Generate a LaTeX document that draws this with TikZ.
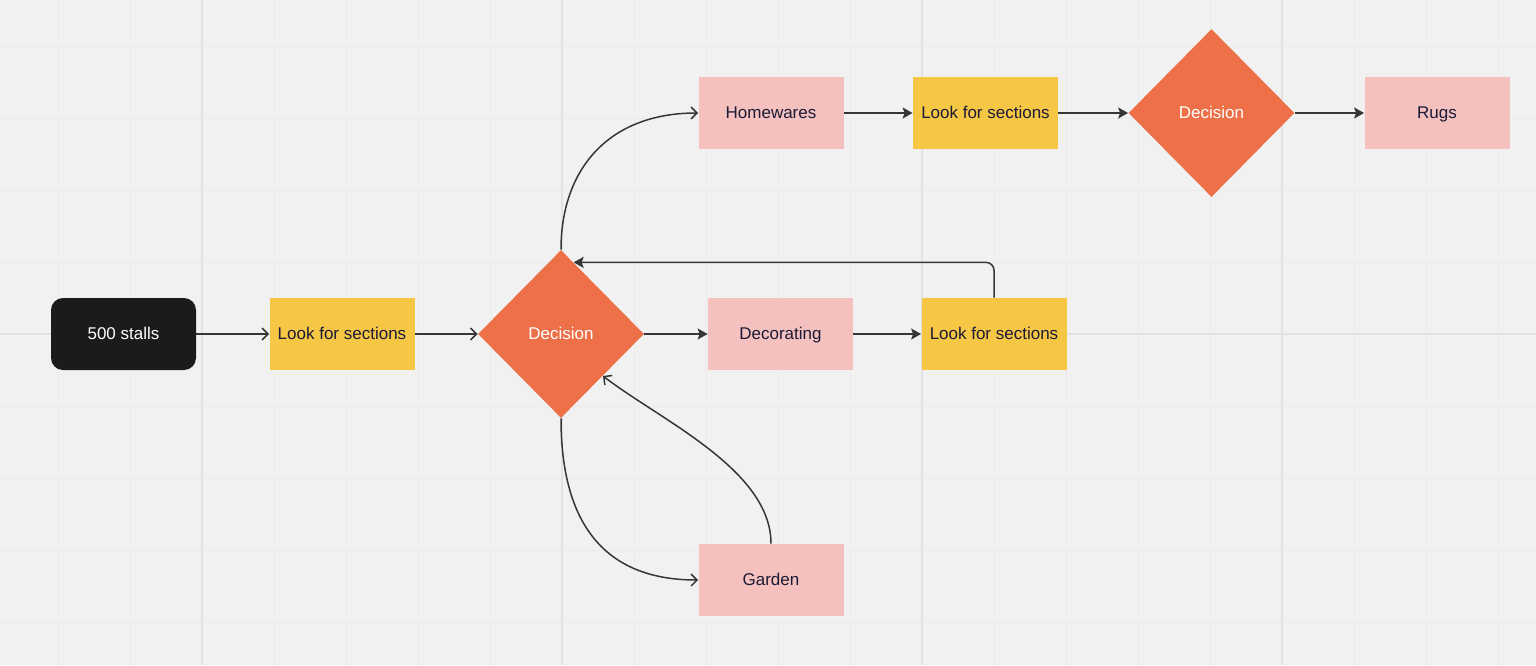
\documentclass[tikz,border=0pt]{standalone}
\usepackage{fontspec}
\setmainfont{Liberation Sans}
\usetikzlibrary{shapes.geometric,arrows.meta}
\definecolor{bg}{HTML}{F1F1F1}
\definecolor{gridminor}{HTML}{EBEBEB}
\definecolor{gridmajor}{HTML}{E2E2E2}
\definecolor{yel}{HTML}{F5C744}
\definecolor{pnk}{HTML}{F4C1BE}
\definecolor{org}{HTML}{EE7049}
\definecolor{blk}{HTML}{1B1B1B}
\definecolor{navy}{HTML}{1C1A36}
\definecolor{lc}{HTML}{363636}
\begin{document}
\begin{tikzpicture}[x=0.5pt,y=-0.5pt,
  box/.style={rectangle, minimum width=72.5pt, minimum height=36pt, inner sep=0pt,
    text height=6.5pt, text depth=1.2pt,
    font=\fontsize{8.5}{10}\selectfont, text=navy},
  yellowbox/.style={box, fill=yel},
  pinkbox/.style={box, fill=pnk},
  startbox/.style={box, fill=blk, rounded corners=6pt, text=white},
  decbox/.style={diamond, fill=org, minimum width=83pt, minimum height=84pt, inner sep=0pt,
    text height=6.5pt, text depth=1.2pt,
    text=white, font=\fontsize{8.5}{10}\selectfont},
  conn/.style={draw=lc, line width=0.75pt},
  arrowopen/.style={conn, -{Straight Barb[length=3pt,width=6pt]}},
  arrowfill/.style={conn, -{Stealth[length=5pt,width=5.5pt,inset=1pt]}},
  minorline/.style={draw=gridminor, line width=0.5pt},
  majorline/.style={draw=gridmajor, line width=0.9pt}
]
% background and grid
\fill[bg] (0,0) rectangle (1536,665);
\useasboundingbox (0,0) rectangle (1536,665);
\foreach \x in {58,130,...,1498} \draw[minorline] (\x,0) -- (\x,665);
\foreach \y in {46,118,...,622} \draw[minorline] (0,\y) -- (1536,\y);
\foreach \x in {202,562,922,1282} \draw[majorline] (\x,0) -- (\x,665);
\draw[majorline] (0,334) -- (1536,334);

% nodes
\node[startbox] (s) at (123.5,334) {500 stalls};
\node[yellowbox] (l1) at (342,334) {Look for sections};
\node[decbox] (d1) at (561,334) {Decision};
\node[pinkbox] (dec) at (780.5,334) {Decorating};
\node[yellowbox] (l2) at (994,334) {Look for sections};
\node[pinkbox] (hw) at (771,113) {Homewares};
\node[yellowbox] (l3) at (985.5,113) {Look for sections};
\node[decbox] (d2) at (1211.5,113) {Decision};
\node[pinkbox] (rg) at (1437,113) {Rugs};
\node[pinkbox] (gd) at (771,580) {Garden};

% connectors
\draw[arrowopen] (s.east) -- (l1.west);
\draw[arrowopen] (l1.east) -- (d1.west);
\draw[arrowfill] (d1.east) -- (dec.west);
\draw[arrowfill] (dec.east) -- (l2.west);
\draw[arrowfill, rounded corners=4pt] (l2.north) |- (d1.80.5);
\draw[arrowopen] (d1.north) .. controls +(0,-80) and +(-90,0) .. (hw.west);
\draw[arrowfill] (hw.east) -- (l3.west);
\draw[arrowfill] (l3.east) -- (d2.west);
\draw[arrowfill] (d2.east) -- (rg.west);
\draw[arrowopen] (d1.south) .. controls +(0,112) and +(-88,0) .. (gd.west);
\draw[arrowopen] (gd.north) .. controls +(0,-74) and (660,420) .. (d1.-45);
\end{tikzpicture}
\end{document}
